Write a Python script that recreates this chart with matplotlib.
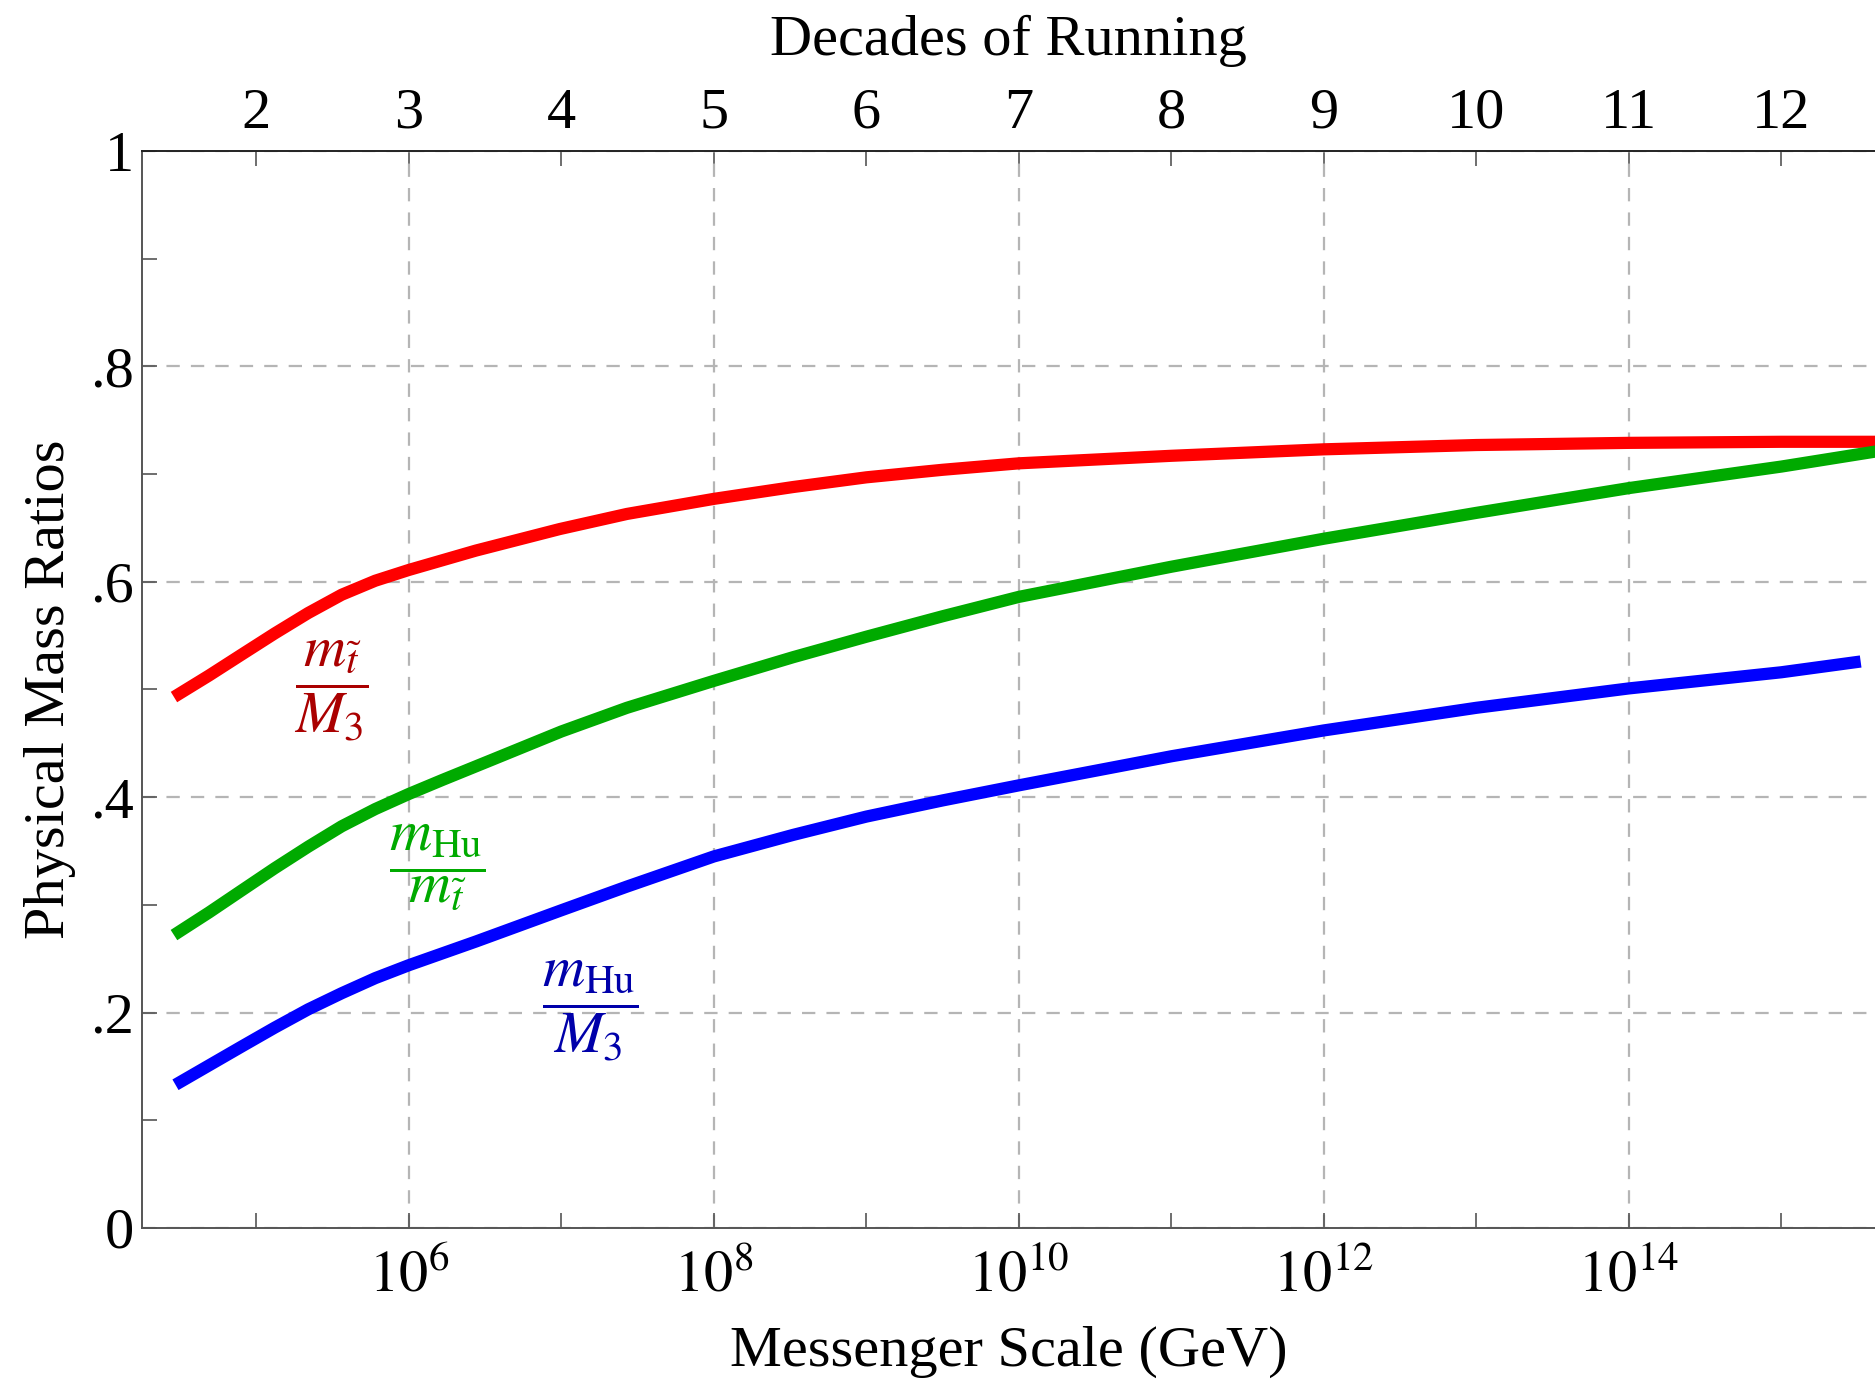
import matplotlib
matplotlib.use("Agg")
import matplotlib.pyplot as plt
import numpy as np
from matplotlib.ticker import FixedLocator, FuncFormatter

plt.rcParams["font.family"] = ["Liberation Serif", "DejaVu Serif"]
plt.rcParams["mathtext.fontset"] = "stix"

# log10 of messenger scale (GeV) and mass ratios
red_logm = [4.46, 4.69, 4.91, 5.12, 5.34, 5.56, 5.78, 6.0, 6.22, 6.44, 6.66, 6.99, 7.43,
            8.0, 8.52, 9.0, 9.5, 10.0, 11.0, 12.0, 13.0, 14.0, 15.0, 15.62]
red_ratio = [0.493, 0.513, 0.533, 0.552, 0.571, 0.588, 0.601, 0.611, 0.620, 0.629, 0.637, 0.649, 0.663,
             0.677, 0.688, 0.697, 0.704, 0.710, 0.717, 0.723, 0.727, 0.729, 0.730, 0.730]

green_logm = [4.46, 4.69, 4.91, 5.12, 5.34, 5.56, 5.78, 6.0, 6.22, 6.55, 7.0, 7.43,
              8.0, 8.52, 9.0, 9.5, 10.0, 11.0, 12.0, 13.0, 14.0, 15.0, 15.62]
green_ratio = [0.272, 0.293, 0.314, 0.334, 0.354, 0.373, 0.389, 0.403, 0.416, 0.435, 0.461, 0.483,
               0.508, 0.530, 0.549, 0.568, 0.586, 0.614, 0.640, 0.664, 0.687, 0.707, 0.721]

blue_logm = [4.47, 4.69, 4.91, 5.12, 5.34, 5.56, 5.78, 6.0, 6.22, 6.44, 7.0, 7.43,
             8.0, 8.52, 9.0, 9.5, 10.0, 11.0, 12.0, 13.0, 14.0, 15.0, 15.52]
blue_ratio = [0.133, 0.151, 0.169, 0.186, 0.203, 0.218, 0.232, 0.244, 0.255, 0.266, 0.295, 0.317,
              0.345, 0.365, 0.382, 0.397, 0.411, 0.438, 0.462, 0.483, 0.501, 0.516, 0.526]

y_ticks = [0, 0.2, 0.4, 0.6, 0.8, 1.0]
y_tick_labels = ["0", ".2", ".4", ".6", ".8", "1"]
x_major_pows = [6, 8, 10, 12, 14]
x_minor_pows = [5, 7, 9, 11, 13, 15]
decade_ticks = list(range(2, 13))

fig = plt.figure(figsize=(18.75, 13.79), dpi=100)
ax = fig.add_axes([0.0757, 0.1095, 0.9243, 0.781])

for logm, ratio, color in [
    (red_logm, red_ratio, "#ff0000"),
    (green_logm, green_ratio, "#00aa00"),
    (blue_logm, blue_ratio, "#0000ff"),
]:
    ax.plot(10.0 ** np.asarray(logm), ratio, color=color, lw=8.8,
            solid_capstyle="butt", solid_joinstyle="round", zorder=3)

ax.set_xscale("log")
ax.set_xlim(10 ** 4.25, 10 ** 15.614)
ax.set_ylim(0, 1)

ax.xaxis.set_major_locator(FixedLocator([10.0 ** p for p in x_major_pows]))
ax.xaxis.set_minor_locator(FixedLocator([10.0 ** p for p in x_minor_pows]))
ax.xaxis.set_major_formatter(FuncFormatter(lambda v, pos: r"$10^{%d}$" % round(np.log10(v))))
ax.xaxis.set_minor_formatter(FuncFormatter(lambda v, pos: ""))

ax.set_yticks(y_ticks)
ax.set_yticklabels(y_tick_labels)
ax.set_yticks([0.1, 0.3, 0.5, 0.7, 0.9], minor=True)

ax.tick_params(axis="both", which="both", direction="in", length=11, width=1.2,
               color="#555555", labelsize=42)
ax.tick_params(axis="x", which="major", pad=16)
ax.tick_params(axis="y", which="major", pad=6)

ax.grid(True, which="major", color="#b5b5b5", linestyle=(0, (6, 5)), lw=1.6, zorder=1)

for side in ["left", "bottom"]:
    ax.spines[side].set_color("#555555")
    ax.spines[side].set_linewidth(1.4)
ax.spines["top"].set_color("#222222")
ax.spines["top"].set_linewidth(1.4)
ax.spines["right"].set_visible(False)

top = ax.secondary_xaxis("top", functions=(lambda m: np.log10(m) - 3, lambda d: 10.0 ** (d + 3)))
top.set_xticks(decade_ticks)
top.set_xticklabels([str(d) for d in decade_ticks])
top.tick_params(direction="in", length=11, width=1.2, color="#555555", labelsize=42, pad=8)
top.spines["top"].set_visible(False)
top.set_xlabel("Decades of Running", fontsize=42, labelpad=24)

ax.set_xlabel("Messenger Scale (GeV)", fontsize=42, labelpad=16)
ax.set_ylabel("Physical Mass Ratios", fontsize=42, labelpad=10)

ax.text(10 ** 5.49, 0.499, r"$\dfrac{m_{\tilde{t}}}{M_3}$", color="#aa0000",
        fontsize=42, ha="center", va="center", zorder=4)
ax.text(10 ** 6.19, 0.335, r"$\dfrac{m_{\mathrm{Hu}}}{m_{\tilde{t}}}$", color="#00aa00",
        fontsize=42, ha="center", va="center", zorder=4)
ax.text(10 ** 7.19, 0.202, r"$\dfrac{m_{\mathrm{Hu}}}{M_3}$", color="#0000aa",
        fontsize=42, ha="center", va="center", zorder=4)

fig.savefig("out.png", dpi=100)
plt.close(fig)
